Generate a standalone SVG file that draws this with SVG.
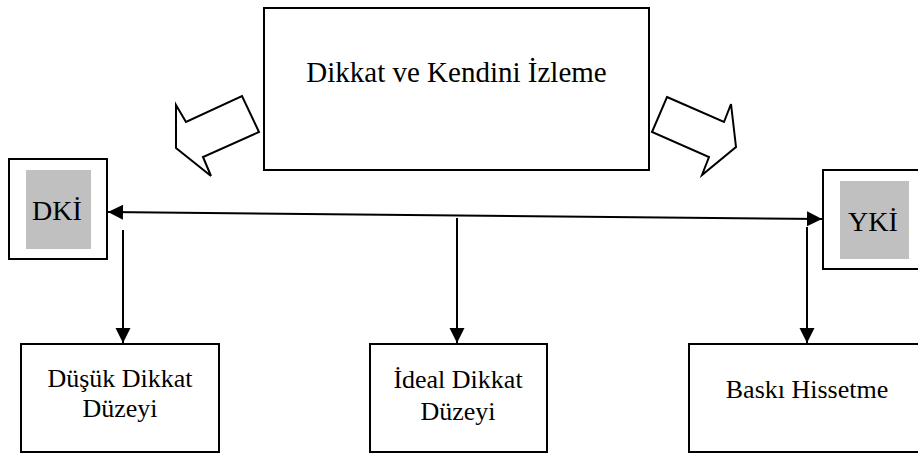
<svg xmlns="http://www.w3.org/2000/svg" width="918" height="453" viewBox="0 0 918 453">
  <style>
    .box { fill: #ffffff; stroke: #000000; stroke-width: 2; }
    .shade { fill: #c0c0c0; stroke: none; }
    .label { font-family: "Liberation Serif", "Times New Roman", serif; fill: #000000; text-anchor: middle; }
    .big { font-size: 29px; }
    .mid { font-size: 26px; }
    .link { stroke: #000000; stroke-width: 2; fill: none; marker-end: url(#head); }
    .block { fill: #ffffff; stroke: #000000; stroke-width: 2; stroke-linejoin: miter; }
  </style>
  <defs>
    <marker id="head" markerUnits="userSpaceOnUse" markerWidth="17" markerHeight="16" refX="15" refY="8" orient="auto">
      <path d="M0,0.5 L15,8 L0,15.5 Z" fill="#000000"/>
    </marker>
    <marker id="tail" markerUnits="userSpaceOnUse" markerWidth="17" markerHeight="16" refX="0" refY="8" orient="auto">
      <path d="M15,0.5 L0,8 L15,15.5 Z" fill="#000000"/>
    </marker>
  </defs>

  <rect width="918" height="453" fill="#ffffff"/>

  <g id="node-izleme">
    <rect class="box" x="264" y="8" width="385" height="162"/>
    <text class="label big" x="456.5" y="82">Dikkat ve Kendini İzleme</text>
  </g>

  <g id="block-arrow-left">
    <polygon class="block" points="176,105 186,122 242,96 259,132 203,157 211,176 176,148"/>
  </g>
  <g id="block-arrow-right">
    <polygon class="block" points="667,97 724,122 731,104 736,147 702,175 709,157 652,132"/>
  </g>

  <g id="node-dki">
    <rect class="box" x="9" y="159" width="98" height="100"/>
    <rect class="shade" x="26" y="170" width="65" height="79"/>
    <text class="label" x="57" y="220" font-size="28">DKİ</text>
  </g>

  <g id="node-yki">
    <rect class="box" x="823" y="170" width="102" height="99"/>
    <rect class="shade" x="840" y="181" width="69" height="78"/>
    <text class="label" x="873" y="231" font-size="28">YKİ</text>
  </g>

  <g id="node-dusuk">
    <rect class="box" x="21" y="344" width="198" height="108"/>
    <text class="label mid" x="120" y="387">Düşük Dikkat</text>
    <text class="label mid" x="120" y="417">Düzeyi</text>
  </g>

  <g id="node-ideal">
    <rect class="box" x="370" y="344" width="177" height="108"/>
    <text class="label mid" x="458" y="388">İdeal Dikkat</text>
    <text class="label mid" x="458" y="420">Düzeyi</text>
  </g>

  <g id="node-baski">
    <rect class="box" x="689" y="344" width="236" height="108"/>
    <text class="label mid" x="807" y="398">Baskı Hissetme</text>
  </g>

  <g id="connectors">
    <line class="link" x1="108" y1="212" x2="822" y2="219" marker-start="url(#tail)"/>
    <line class="link" x1="123" y1="230" x2="123" y2="343"/>
    <line class="link" x1="457" y1="218" x2="457" y2="343"/>
    <line class="link" x1="807" y1="227" x2="807" y2="343"/>
  </g>
</svg>
